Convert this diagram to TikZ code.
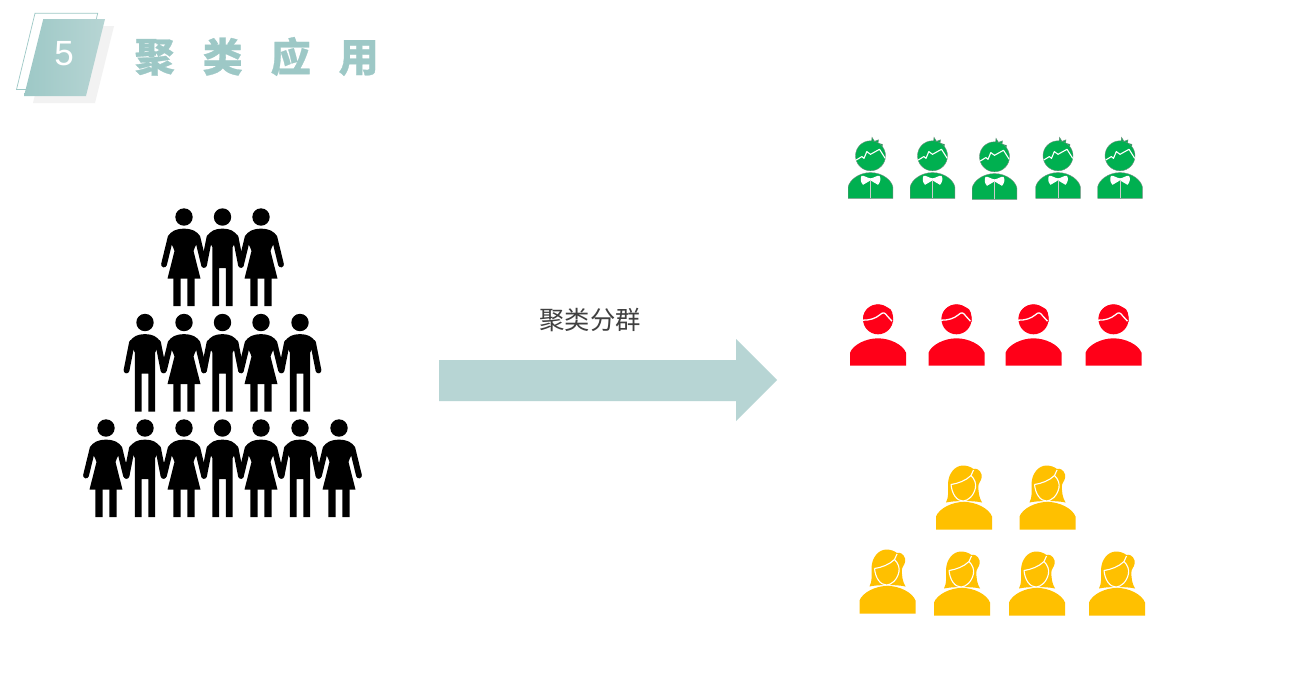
\documentclass[tikz,border=0pt]{standalone}
\usepackage{fontspec}
\setmainfont{Liberation Sans}
\newfontfamily\cjk{Noto Sans CJK SC}
\newfontfamily\cjkt[BoldFeatures={FakeBold=0.7}]{Noto Sans CJK SC}
\definecolor{teal1}{HTML}{9DC8C6}
\definecolor{teal2}{HTML}{B7D5D4}
\definecolor{shadowgrey}{HTML}{F2F2F2}
\definecolor{grn}{HTML}{00B050}
\definecolor{rd}{HTML}{FF0018}
\definecolor{yl}{HTML}{FFC000}
\definecolor{lab}{HTML}{404040}
\definecolor{edgegrey}{HTML}{6F8F7F}
\tikzset{
  x=1pt,y=-1pt,
  limb/.style={black,line width=5.8pt,line cap=round},
  womanfig/.pic={
    \fill[black] (0,0) circle[radius=8.7pt];
    \fill[black] (-16,20) .. controls (-14,14) and (-7,11.6) .. (0,11.6) .. controls (7,11.6) and (14,14) .. (16,20) -- (11,30) -- (9.5,34) -- (16.5,61.6) -- (-16.5,61.6) -- (-9.5,34) -- (-11,30) -- cycle;
    \draw[limb] (-13.3,20) -- (-20,47.5);
    \draw[limb] (13.3,20) -- (20,47.5);
    \fill[black] (-10.7,60) rectangle (-3.4,89) (3.4,60) rectangle (10.7,89);
  },
  manfig/.pic={
    \fill[black] (0,0) circle[radius=8.7pt];
    \fill[black] (-15.5,20) .. controls (-13,14) and (-7,11.6) .. (0,11.6) .. controls (7,11.6) and (13,14) .. (15.5,20) -- (10.2,30) -- (10.2,89) -- (3.3,89) -- (3.3,51) -- (-3.3,51) -- (-3.3,89) -- (-10.2,89) -- (-10.2,30) -- cycle;
    \draw[limb] (-13,20) -- (-18.5,48);
    \draw[limb] (13,20) -- (18.5,48);
  },
  greenfig/.pic={
    \draw[edgegrey,fill=grn,line width=.4pt] (-4,-55) -- (1,-56.5) -- (1.5,-61) -- (4,-57) -- (8,-58.5) -- (7.5,-55) -- (12,-54) -- (11,-48) -- cycle;
    \draw[edgegrey,fill=grn,line width=.4pt] (0,-42.5) circle[radius=15pt];
    \fill[grn] (-3,-54) -- (3,-56) -- (9,-54) -- (7,-48) -- cycle;
    \draw[white,line width=1.1pt,line join=round] (-14.3,-38.3) -- (-8.7,-41.7) -- (-6.5,-40) -- (-3.7,-46.7) -- (0,-44) -- (9,-49) -- (14.7,-40);
    \draw[edgegrey,fill=grn,line width=.4pt] (-22.3,0) -- (-22.3,-11.5) .. controls (-21,-18) and (-12,-25.7) .. (0,-25.7) .. controls (12,-25.7) and (21,-18) .. (22.3,-11.5) -- (22.3,0) -- cycle;
    \fill[white] (0,-20) .. controls (-3,-20) and (-6,-23) .. (-9,-22.5) .. controls (-10.5,-20) and (-10,-16) .. (-7.5,-13.5) -- (-1.5,-17) -- (0,-18) -- (1.5,-17) -- (7.5,-13.5) .. controls (10,-16) and (10.5,-20) .. (9,-22.5) .. controls (6,-23) and (3,-20) .. (0,-20) -- cycle;
    \draw[white!80!black,line width=.8pt] (0,-18) -- (0,0);
  },
  redfig/.pic={
    \fill[rd] (0,-46.4) circle[radius=15pt];
    \fill[rd] (-15,-46) .. controls (-15,-58) and (-5,-61.5) .. (1,-61) .. controls (6,-61) and (7,-58.5) .. (10,-58) .. controls (14,-57) and (15.5,-51) .. (15,-44) -- (8,-42) -- cycle;
    \draw[white,line width=1.3pt] (-15.5,-45.5) .. controls (-8,-45.5) and (-3,-47) .. (2,-51) .. controls (5,-54) and (7,-53) .. (9,-50) -- (14,-44.5);
    \fill[rd] (-28,0) -- (-28,-13) .. controls (-25,-21) and (-12,-27.4) .. (0,-27.4) .. controls (12,-27.4) and (25,-21) .. (28,-13) -- (28,0) -- cycle;
  },
  yellowfig/.pic={
    \fill[yl] (-18,-27) .. controls (-15,-33) and (-16,-38) .. (-16,-45) .. controls (-16,-56) and (-9,-64) .. (-1,-64) .. controls (3,-64) and (7,-62.5) .. (9.5,-60.5) .. controls (12,-61.5) and (16,-60) .. (17.5,-55) .. controls (18.5,-51) and (16,-48) .. (14.5,-45) .. controls (14,-38) and (15,-32) .. (18,-27) .. controls (10,-29) and (-10,-29) .. (-18,-27) -- cycle;
    \draw[white,line width=1.1pt,line join=round] (-13,-45) .. controls (-6,-46) and (2,-49) .. (7,-54) -- (9.5,-59.5) (7,-54) .. controls (11,-50) and (12,-46) .. (11.5,-42) .. controls (10,-34) and (4,-28.5) .. (-1,-28.5) .. controls (-7,-28.5) and (-12,-35) .. (-13,-45);
    \fill[yl] (-28,0) -- (-28,-13) .. controls (-25,-21) and (-12,-27.6) .. (0,-27.6) .. controls (12,-27.6) and (25,-21) .. (28,-13) -- (28,0) -- cycle;
  },
}
\begin{document}
\begin{tikzpicture}
\useasboundingbox (0,0) rectangle (1292,689);
\fill[white] (0,0) rectangle (1292,689);
% badge
\fill[shadowgrey] (52,26) -- (114,26) -- (95,103) -- (33,103) -- cycle;
\draw[teal1,fill=white,line width=.7pt] (35,13.3) -- (97.7,13.3) -- (79,89.5) -- (16.5,89.5) -- cycle;
\shade[left color=teal1,right color=teal2] (43.3,19) -- (105,19) -- (86,96) -- (24,96) -- cycle;
\node[text=white,inner sep=0pt,font=\fontsize{35}{40}\selectfont] (num) at (64,53.5) {5};
\node[anchor=west,text=teal1,inner sep=0pt] (title) at (134.5,56.5) {\cjkt\bfseries\fontsize{40}{46}\selectfont \spaceskip=28pt 聚 类 应 用};
% crowd
\foreach \x/\k in {184/womanfig,222.5/manfig,261/womanfig}
  \pic at (\x,217) {\k};
\foreach \x/\k in {145/manfig,184/womanfig,222.5/manfig,261/womanfig,300/manfig}
  \pic at (\x,322.5) {\k};
\foreach \x/\k in {106/womanfig,145/manfig,184/womanfig,222.5/manfig,261/womanfig,300/manfig,339/womanfig}
  \pic at (\x,428) {\k};
% arrow
\fill[teal2] (439,360) -- (736,360) -- (736,339) -- (777,380) -- (736,421) -- (736,401) -- (439,401) -- cycle;
\node[text=lab,inner sep=0pt,font=\cjk\fontsize{25.3}{30}\selectfont] (lab) at (590,320) {聚类分群};
% groups
\foreach \x/\y in {870.5/198.3,932.5/198.3,994.5/199.3,1058/198.3,1120/198.3}
  \pic at (\x,\y) {greenfig};
\foreach \x in {878,956.5,1033.5,1113.5}
  \pic at (\x,365.7) {redfig};
\foreach \x/\y in {964/529.5,1047.5/529.5,887.5/613.5,962/615.5,1037/615.5,1117/615.5}
  \pic at (\x,\y) {yellowfig};
\end{tikzpicture}
\end{document}
